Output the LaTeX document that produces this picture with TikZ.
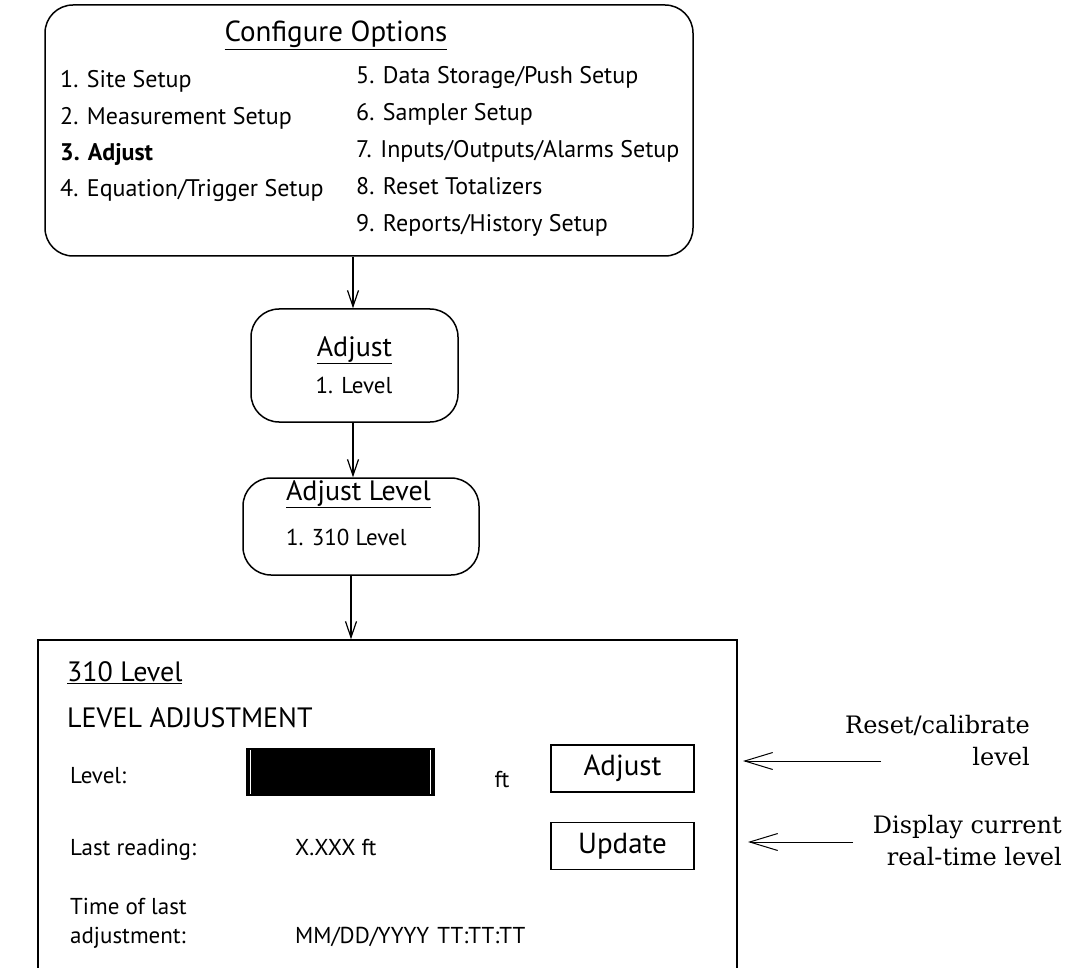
\documentclass[tikz,border=0pt]{standalone}
\usepackage{fontspec}
\newfontfamily\menufont{PT Sans}
\newfontfamily\notefont{DejaVu Serif}
\usetikzlibrary{arrows.meta}
\usetikzlibrary{positioning}

\begin{document}
\begin{tikzpicture}[
  x=1pt, y=-1pt,
  every node/.style={font=\menufont\fontsize{23}{27}\selectfont},
  head/.style = {anchor=base, inner sep=0pt, font=\menufont\fontsize{28}{32}\selectfont},
  menu/.style = {draw, line width=1.5pt, rounded corners=28pt, inner sep=0pt},
  item/.style = {anchor=base west, inner sep=0pt},
  opt/.style = {item, font=\menufont\fontsize{24}{28}\selectfont},
  btn/.style = {draw, line width=1.4pt, minimum width=143, minimum height=47, inner sep=0pt, font=\menufont\fontsize{29}{32}\selectfont},
  flow/.style = {line width=1.2pt, -{Straight Barb[length=16pt,width=11pt,line width=1.2pt]}},
  note/.style = {align=right, anchor=east, inner sep=0pt, font=\notefont\fontsize{24}{32}\selectfont},
  note arrow/.style = {line width=1pt, -{Straight Barb[length=28pt,width=17pt,line width=1pt]}}
  ]
	\useasboundingbox (0,0) rectangle (1071,968);

	% menu boxes
	\node[menu, minimum width=648, minimum height=251] (config) at (369,130.5) {};
	\node[menu, minimum width=207, minimum height=113] (adj) at (354.5,365.5) {};
	\node[menu, minimum width=236, minimum height=97] (adjlvl) at (361,526.5) {};
	\node[draw, line width=1.5pt, minimum width=699, minimum height=335, inner sep=0pt] (screen) at (387.5,807.5) {};

	\node[head, font=\menufont\fontsize{29}{32}\selectfont] (ctitle) at (336,42) {\underline{Configure Options}};
	\node[opt] (c1) at (60,88) {1. Site Setup};
	\node[opt] (c2) at (60,125) {2. Measurement Setup};
	\node[opt] (c3) at (60,161) {\bfseries 3. Adjust};
	\node[opt] (c4) at (60,197) {4. Equation/Trigger Setup};
	\node[opt] (c5) at (356,84) {5. Data Storage/Push Setup};
	\node[opt] (c6) at (356,121) {6. Sampler Setup};
	\node[opt] (c7) at (356,158) {7. Inputs/Outputs/Alarms Setup};
	\node[opt] (c8) at (356,195) {8. Reset Totalizers};
	\node[opt] (c9) at (356,232) {9. Reports/History Setup};

	\node[head] (atitle) at (354.5,356) {\underline{Adjust}};
	\node[anchor=base, inner sep=0pt] (a1) at (354,393) {1. Level};

	\node[head] (ltitle) at (358.5,500) {\underline{Adjust Level}};
	\node[item] (l1) at (286,545) {1. 310 Level};

	\draw[flow] (config.south -| 353,0) -- (adj.north -| 353,0);
	\draw[flow] (adj.south -| 353,0) -- (adjlvl.north -| 353,0);
	\draw[flow] (adjlvl.south -| 351,0) -- (screen.north -| 351,0);

	% screen contents
	\node[head, anchor=base west] (stitle) at (67,681) {\underline{310 Level}};
	\node[head, anchor=base west] (shead) at (67,727) {LEVEL ADJUSTMENT};
	\node[item] (llevel) at (70,783) {Level:};
	\node[draw, line width=1.3pt, fill=black, minimum width=187, minimum height=46, inner sep=0pt] (field) at (340.5,772) {};
	\draw[white, line width=1.2pt] ([xshift=4,yshift=-2]field.north west) -- ([xshift=4,yshift=2]field.south west);
	\draw[white, line width=1.2pt] ([xshift=-4,yshift=-2]field.north east) -- ([xshift=-4,yshift=2]field.south east);
	\node[anchor=base, inner sep=0pt] (unit) at (502,787) {ft};
	\node[btn] (badjust) at (622.5,768.5) {Adjust};
	\node[item] (lread) at (70,855) {Last reading:};
	\node[item] (vread) at (295,855) {X.XXX ft};
	\node[btn] (bupdate) at (622.5,846) {Update};
	\node[item] (ltime) at (70,914) {Time of last};
	\node[item] (ltime2) at (70,943) {adjustment:};
	\node[item] (vtime) at (295,943) {MM/DD/YYYY\hspace{0.35em}TT:TT:TT};

	% notes
	\node[note] (nreset) at (1030,741) {Reset/calibrate\\level};
	\node[note] (ndisplay) at (1062,841) {Display current\\real-time level};
	\coordinate (r1) at (881,761);
	\coordinate (r2) at (853,842);
	\draw[note arrow] (r1) -- (r1 -| 743,0);
	\draw[note arrow] (r2) -- (r2 -| 748,0);

\end{tikzpicture}
\end{document}
